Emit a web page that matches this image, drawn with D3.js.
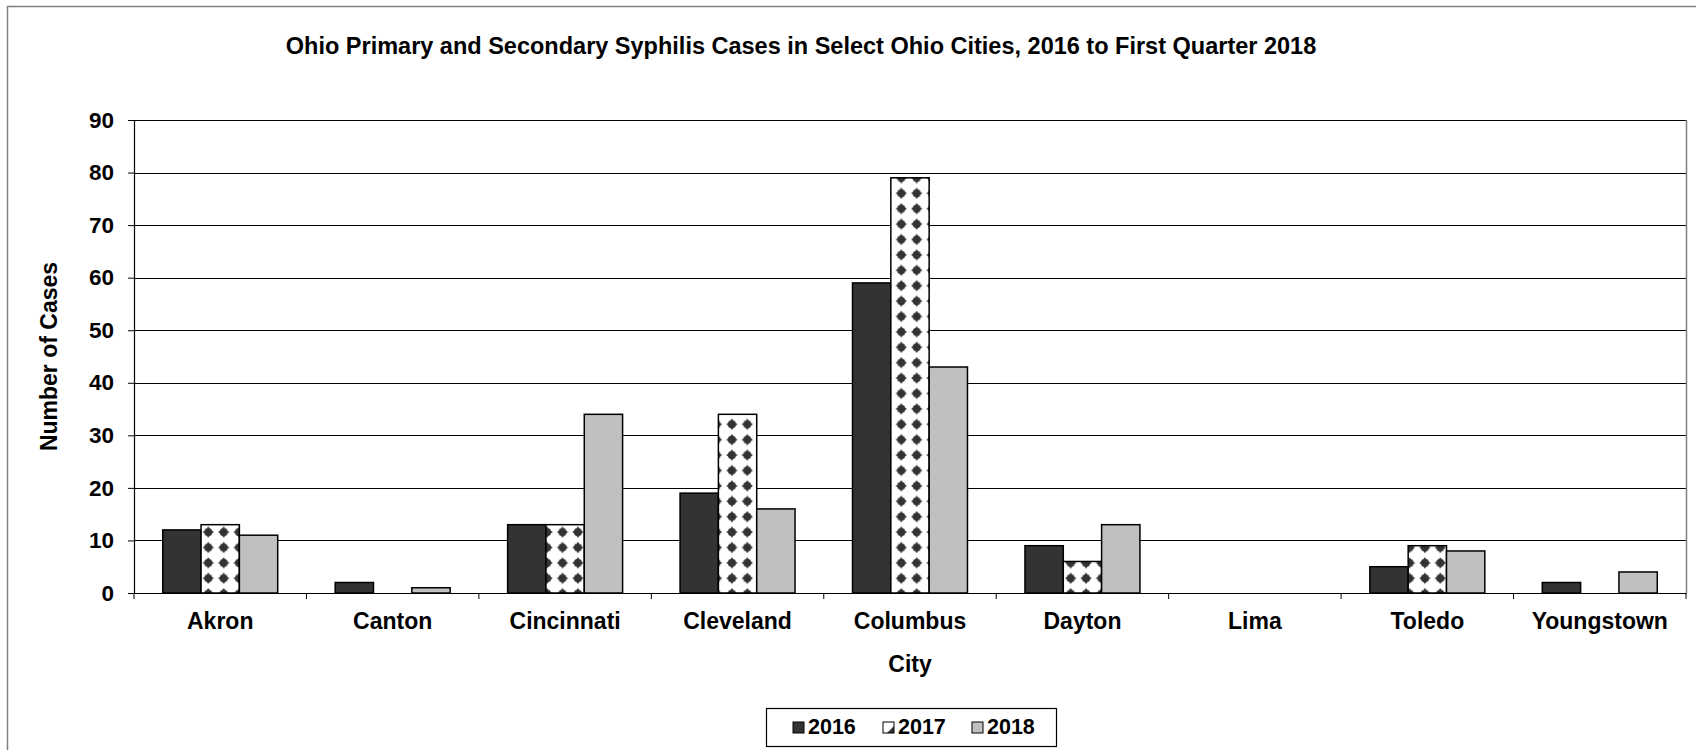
<!DOCTYPE html>
<html>
<head>
<meta charset="utf-8">
<script src="https://cdn.jsdelivr.net/npm/d3@7"></script>
<style>
  body { margin: 0; background: #fff; }
  text { font-family: "Liberation Sans", Arial, sans-serif; font-weight: bold; fill: #000; }
</style>
</head>
<body>
<div id="chart1"></div>
<script>

var cities = ["Akron", "Canton", "Cincinnati", "Cleveland", "Columbus", "Dayton", "Lima", "Toledo", "Youngstown"];
var years = ["2016", "2017", "2018"];
var cases2016 = [12, 2, 13, 19, 59, 9, 0, 5, 2];
var cases2017 = [13, 0, 13, 34, 79, 6, 0, 9, 0];
var cases2018 = [11, 1, 34, 16, 43, 13, 0, 8, 4];
var yTicks = [0, 10, 20, 30, 40, 50, 60, 70, 80, 90];

var margin = { left: 134, right: 10, top: 120, bottom: 157 };
var width = 1696 - margin.left - margin.right;
var height = 750 - margin.top - margin.bottom;

var series = [cases2016, cases2017, cases2018];
var fills = ["#333333", "url(#diamonds)", "#c0c0c0"];

var svg = d3.select("#chart1")
  .append("svg")
    .attr("width", 1696)
    .attr("height", 750);

var defs = svg.append("defs");

// diamond pattern for 2017
var pat = defs.append("pattern")
  .attr("id", "diamonds")
  .attr("patternUnits", "userSpaceOnUse")
  .attr("width", 15.4)
  .attr("height", 15.4)
  .attr("x", 5)
  .attr("y", 4);
pat.append("rect").attr("width", 15.4).attr("height", 15.4).attr("fill", "#fff");
pat.append("path")
  .attr("d", "M7.7,2 L9,3.8 L10.8,4.6 L11.6,6.4 L13.4,7.7 L11.6,9 L10.8,10.8 L9,11.6 L7.7,13.4 L6.4,11.6 L4.6,10.8 L3.8,9 L2,7.7 L3.8,6.4 L4.6,4.6 L6.4,3.8 Z")
  .attr("fill", "#333");

// small version for the legend swatch
var patSmall = defs.append("pattern")
  .attr("id", "diamondsSmall")
  .attr("patternUnits", "objectBoundingBox")
  .attr("width", 1).attr("height", 1);
patSmall.append("rect").attr("width", 11).attr("height", 11).attr("fill", "#fff");
patSmall.append("path")
  .attr("d", "M11,4 L11,11 L4,11 L6,9 L9,6 Z")
  .attr("fill", "#333");

// outer chart border
svg.append("rect")
  .attr("x", 7.5).attr("y", 6.5)
  .attr("width", 1700).attr("height", 760)
  .attr("fill", "none")
  .attr("stroke", "#808080")
  .attr("stroke-width", 1.5);

var g = svg.append("g")
  .attr("transform", "translate(" + margin.left + "," + margin.top + ")");

var x0 = d3.scaleBand().domain(cities).range([0, width]).paddingInner(0).paddingOuter(0);
var x1 = d3.scaleBand().domain(years).range([0, x0.bandwidth()]).paddingInner(0).paddingOuter(0.75);
var y = d3.scaleLinear().domain([0, 90]).range([height, 0]);

// gridlines
g.append("g")
  .selectAll("line")
  .data(yTicks.slice(1))
  .enter().append("line")
    .attr("x1", 0).attr("x2", width)
    .attr("y1", function(d){ return Math.round(y(d)) + 0.5 })
    .attr("y2", function(d){ return Math.round(y(d)) + 0.5 })
    .attr("stroke", "#000")
    .attr("stroke-width", 1);

// plot area right border
g.append("line")
  .attr("x1", width + 0.5).attr("x2", width + 0.5)
  .attr("y1", 0).attr("y2", height)
  .attr("stroke", "#808080").attr("stroke-width", 1.5);

// bars
years.forEach(function(yr, i) {
  g.append("g")
    .selectAll("rect")
    .data(series[i])
    .enter().append("rect")
      .attr("x", function(d, j){ return x0(cities[j]) + x1(yr) })
      .attr("y", function(d){ return y(d) })
      .attr("width", x1.bandwidth())
      .attr("height", function(d){ return height - y(d) })
      .attr("fill", fills[i])
      .attr("stroke", function(d){ return d > 0 ? "#000" : "none" })
      .attr("stroke-width", 1.5);
});

// y axis
var yAxis = d3.axisLeft(y).tickValues(yTicks).tickSize(6);
var ya = g.append("g").call(yAxis);
ya.select(".domain").attr("stroke", "#000").attr("stroke-width", 1.2);
ya.selectAll(".tick line").attr("stroke", "#000");
ya.selectAll("text")
  .attr("x", -20)
  .style("font-size", "22.5px")
  .style("font-family", "'Liberation Sans', Arial, sans-serif")
  .style("font-weight", "bold")
  .attr("fill", "#000");

// x axis
var xAxis = d3.axisBottom(x0).tickSize(0).tickPadding(20);
var xa = g.append("g")
  .attr("transform", "translate(0," + height + ")")
  .call(xAxis);
xa.select(".domain").attr("stroke", "#000").attr("stroke-width", 1.2);
xa.selectAll("text")
  .style("font-size", "23px")
  .style("font-family", "'Liberation Sans', Arial, sans-serif")
  .style("font-weight", "bold")
  .attr("fill", "#000");

// category boundary ticks
xa.append("g")
  .selectAll("line")
  .data(d3.range(cities.length + 1))
  .enter().append("line")
    .attr("x1", function(d){ return d * x0.step() })
    .attr("x2", function(d){ return d * x0.step() })
    .attr("y1", 0).attr("y2", 6)
    .attr("stroke", "#000");

// axis titles
svg.append("text")
  .attr("transform", "translate(51," + (margin.top + height / 2) + ") rotate(-90)")
  .attr("text-anchor", "middle")
  .attr("dominant-baseline", "middle")
  .style("font-size", "23px")
  .text("Number of Cases");

svg.append("text")
  .attr("x", margin.left + width / 2)
  .attr("y", 666)
  .attr("text-anchor", "middle")
  .attr("dominant-baseline", "middle")
  .style("font-size", "23px")
  .text("City");

// title
svg.append("text")
  .attr("x", 801)
  .attr("y", 48)
  .attr("text-anchor", "middle")
  .attr("dominant-baseline", "middle")
  .style("font-size", "23.5px")
  .text("Ohio Primary and Secondary Syphilis Cases in Select Ohio Cities, 2016 to First Quarter 2018");

// legend
var legend = svg.append("g").attr("transform", "translate(766,708)");
legend.append("rect")
  .attr("x", 0.5).attr("y", 0.5)
  .attr("width", 290).attr("height", 38)
  .attr("fill", "#fff")
  .attr("stroke", "#000")
  .attr("stroke-width", 1.2);

var legendX = [27, 117, 206];
var legendFills = ["#333333", "url(#diamondsSmall)", "#c0c0c0"];
var items = legend.selectAll(".item")
  .data(years).enter()
  .append("g")
    .attr("class", "item")
    .attr("transform", function(d, i){ return "translate(" + legendX[i] + ",0)" });
items.append("rect")
  .attr("x", 0).attr("y", 14)
  .attr("width", 11).attr("height", 11)
  .attr("fill", function(d, i){ return legendFills[i] })
  .attr("stroke", "#000")
  .attr("stroke-width", 1);
items.append("text")
  .attr("x", 15).attr("y", 20)
  .attr("dominant-baseline", "middle")
  .style("font-size", "21.5px")
  .text(function(d){ return d });

</script>
</body>
</html>
